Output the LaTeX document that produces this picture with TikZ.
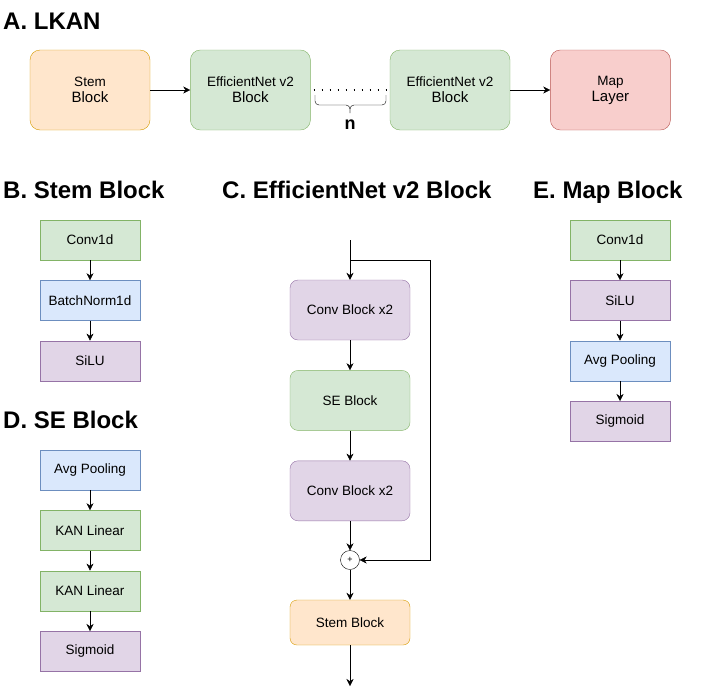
\documentclass[tikz,border=0pt]{standalone}
\usepackage{fontspec}
\setmainfont{Liberation Sans}
\usetikzlibrary{positioning,arrows.meta}
\definecolor{orangefill}{HTML}{FFE6CC}
\definecolor{orangeline}{HTML}{D79B00}
\definecolor{greenfill}{HTML}{D5E8D4}
\definecolor{greenline}{HTML}{82B366}
\definecolor{bluefill}{HTML}{DAE8FC}
\definecolor{blueline}{HTML}{6C8EBF}
\definecolor{purplefill}{HTML}{E1D5E7}
\definecolor{purpleline}{HTML}{9673A6}
\definecolor{redfill}{HTML}{F8CECC}
\definecolor{redline}{HTML}{B85450}
\begin{document}
\begin{tikzpicture}[x=1pt,y=-1pt]
  \tikzstyle{every node}=[font=\fontsize{13.5}{16}\selectfont]
  \tikzstyle{title}=[anchor=base west,inner sep=0pt,font=\fontsize{24}{28}\selectfont\bfseries]
  \tikzstyle{layer}=[draw,minimum width=100pt,minimum height=40pt,inner sep=0pt]
  \tikzstyle{block}=[draw,rounded corners=10pt,minimum width=120pt,minimum height=80pt,inner sep=0pt,align=center]
  \tikzstyle{cblock}=[draw,rounded corners=8pt,minimum width=120pt,minimum height=60pt,inner sep=0pt]
  \tikzstyle{orangebox}=[fill=orangefill,draw=orangeline]
  \tikzstyle{greenbox}=[fill=greenfill,draw=greenline]
  \tikzstyle{bluebox}=[fill=bluefill,draw=blueline]
  \tikzstyle{purplebox}=[fill=purplefill,draw=purpleline]
  \tikzstyle{redbox}=[fill=redfill,draw=redline]
  \tikzstyle{arr}=[-{Stealth[length=7pt,width=7pt]}]
  \useasboundingbox (0,0) rectangle (710,694);

  % A. LKAN
  \node[title] (ta) at (3,29) {A. LKAN};
  \node[block,orangebox] (stem) at (90,90) {Stem\\{\fontsize{15}{18}\selectfont Block}};
  \node[block,greenbox,right=40pt of stem] (eff1) {EfficientNet v2\\{\fontsize{15}{18}\selectfont Block}};
  \node[block,greenbox] (eff2) at (450,90) {EfficientNet v2\\{\fontsize{15}{18}\selectfont Block}};
  \node[block,redbox,right=40pt of eff2] (map) {Map\\{\fontsize{15}{18}\selectfont Layer}};
  \draw[arr] (stem) -- (eff1);
  \draw[arr] (eff2) -- (map);
  \draw[line width=1.8pt,dash pattern=on 1.8pt off 6.2pt] (eff1.east) ++(3,0) -- (eff2.west);
  % brace under the repeated blocks
  \coordinate (bl) at (315,95);
  \coordinate (br) at (386,95);
  \coordinate (bmid) at (350,105);
  \coordinate (btip) at (350,113);
  \draw[rounded corners=4pt] (bl) |- (bmid) -- (btip);
  \draw[rounded corners=4pt] (br) |- (bmid) -- (btip);
  \node[font=\fontsize{18}{20}\selectfont\bfseries] (n) at (350,125) {n};

  % B. Stem Block
  \node[title] (tb) at (3,198) {B. Stem Block};
  \node[layer,greenbox] (bconv) at (90,240) {Conv1d};
  \node[layer,bluebox,below=20pt of bconv] (bnorm) {BatchNorm1d};
  \node[layer,purplebox,below=20pt of bnorm] (bact) {SiLU};

  % D. SE Block
  \node[title] (td) at (3,428) {D. SE Block};
  \node[layer,bluebox] (dpool) at (90,470) {Avg Pooling};
  \node[layer,greenbox,below=20pt of dpool] (dkan1) {KAN Linear};
  \node[layer,greenbox,below=20pt of dkan1] (dkan2) {KAN Linear};
  \node[layer,purplebox,below=20pt of dkan2] (dsig) {Sigmoid};

  % E. Map Block
  \node[title] (te) at (533,198) {E. Map Block};
  \node[layer,greenbox] (econv) at (620,240) {Conv1d};
  \node[layer,purplebox,below=20pt of econv] (eact) {SiLU};
  \node[layer,bluebox,below=20pt of eact] (epool) {Avg Pooling};
  \node[layer,purplebox,below=20pt of epool] (esig) {Sigmoid};

  \foreach \a/\b in {bconv/bnorm,bnorm/bact,dpool/dkan1,dkan1/dkan2,dkan2/dsig,econv/eact,eact/epool,epool/esig}
    \draw[arr] (\a) -- (\b);

  % C. EfficientNet v2 Block
  \node[title] (tc) at (222,198) {C. EfficientNet v2 Block};
  \coordinate (cin) at (350,240);
  \coordinate (split) at (350,260);
  \coordinate (corner) at (430,260);
  \node[cblock,purplebox] (conv1) at (350,310) {Conv Block x2};
  \node[cblock,greenbox,below=30pt of conv1] (se) {SE Block};
  \node[cblock,purplebox,below=30pt of se] (conv2) {Conv Block x2};
  \node[draw,circle,minimum size=19pt,inner sep=0pt,font=\fontsize{9}{10}\selectfont] (plus) at (350,560) {+};
  \node[cblock,orangebox,minimum height=45pt,rounded corners=7pt] (cstem) at (350,622.5) {Stem Block};
  \coordinate (cout) at (350,686);
  \draw[arr] (cin) -- (conv1);
  \draw[arr] (conv1) -- (se);
  \draw[arr] (se) -- (conv2);
  \draw[arr] (conv2) -- (plus);
  \draw[arr] (plus) -- (cstem);
  \draw[arr] (cstem) -- (cout);
  \draw[arr] (split) -- (corner) |- (plus);
\end{tikzpicture}
\end{document}
